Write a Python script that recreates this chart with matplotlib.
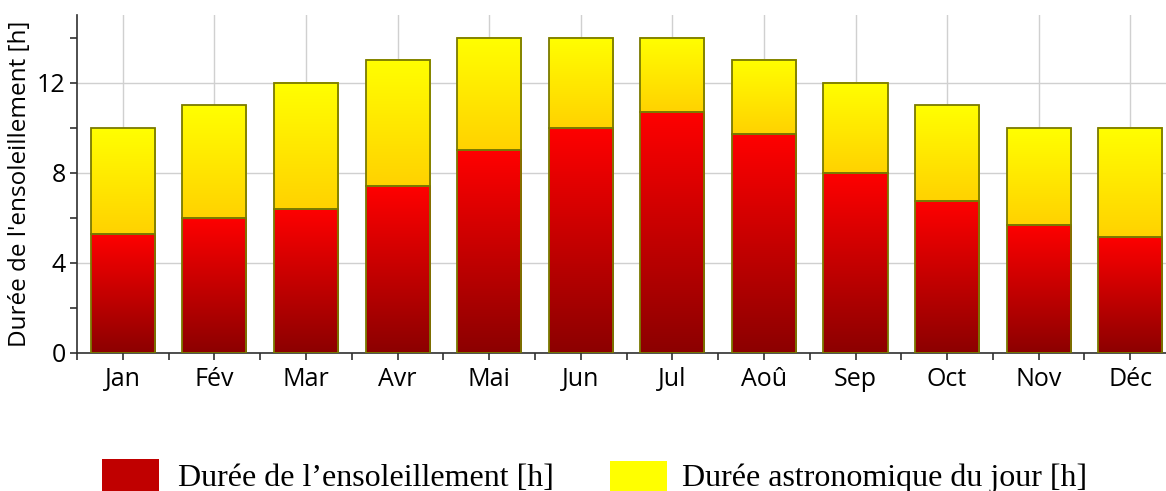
import numpy as np
import matplotlib
matplotlib.use("Agg")
import matplotlib.pyplot as plt
from matplotlib.patches import Rectangle
from matplotlib.ticker import MultipleLocator

months = ["Jan", "Fév", "Mar", "Avr", "Mai", "Jun", "Jul", "Aoû", "Sep", "Oct", "Nov", "Déc"]
sunshine_hours = [5.3, 6.0, 6.4, 7.4, 9.0, 10.0, 10.7, 9.7, 8.0, 6.75, 5.7, 5.15]
day_length_hours = [10, 11, 12, 13, 14, 14, 14, 13, 12, 11, 10, 10]

plt.rcParams["font.family"] = ["Open Sans", "DejaVu Sans"]

fig = plt.figure(figsize=(11.66, 4.91), dpi=100)
ax = fig.add_axes([77 / 1166, 1 - 353 / 491, 1 - 77 / 1166, (353 - 15) / 491])

bar_w = 0.7
edge = "#7a7a00"


def gradient_bar(x, bottom, top, c_top, c_bottom):
    n = 256
    t = np.linspace(0, 1, n)[:, None]
    c_top = np.array(c_top) / 255.0
    c_bottom = np.array(c_bottom) / 255.0
    img = c_top[None, None, :] * (1 - t[..., None]) + c_bottom[None, None, :] * t[..., None]
    img = np.repeat(img, 2, axis=1)
    ax.imshow(img, extent=[x - bar_w / 2, x + bar_w / 2, bottom, top],
              aspect="auto", origin="upper", zorder=2, interpolation="bilinear")
    ax.add_patch(Rectangle((x - bar_w / 2, bottom), bar_w, top - bottom,
                           facecolor="none", edgecolor=edge, linewidth=1.3, zorder=3))


for i, (s, d) in enumerate(zip(sunshine_hours, day_length_hours)):
    gradient_bar(i, 0, s, (255, 0, 0), (140, 0, 0))
    gradient_bar(i, s, d, (255, 255, 0), (255, 210, 0))

ax.set_xlim(-0.5, 11.39)
ax.set_ylim(0, 15)

ax.set_xticks(range(len(months)))
ax.set_xticklabels(months)
ax.xaxis.set_minor_locator(MultipleLocator(1, offset=0.5))
ax.yaxis.set_major_locator(MultipleLocator(4))
ax.yaxis.set_minor_locator(MultipleLocator(2))

ax.tick_params(axis="both", which="both", direction="out", length=5, width=1.2,
               color="#303030", labelsize=18)
ax.tick_params(axis="x", pad=5)
ax.tick_params(axis="y", pad=3)
ax.grid(True, which="major", color="#d0d0d0", linewidth=1, zorder=0)
ax.set_axisbelow(True)

for side in ("top", "right"):
    ax.spines[side].set_visible(False)
for side in ("left", "bottom"):
    ax.spines[side].set_color("#303030")
    ax.spines[side].set_linewidth(1.2)

ax.set_ylabel("Durée de l'ensoleillement [h]", fontsize=17.5, labelpad=4)

# Legend drawn below the chart
fig.patches.append(Rectangle((102 / 1166, 0), 57 / 1166, 32 / 491,
                             transform=fig.transFigure, facecolor="#c00000",
                             edgecolor="none"))
fig.patches.append(Rectangle((610 / 1166, 0), 57 / 1166, 30 / 491,
                             transform=fig.transFigure, facecolor="#ffff00",
                             edgecolor="none"))
legend_font = dict(family=["Liberation Serif", "DejaVu Serif"], fontsize=23,
                   va="baseline", ha="left")
fig.text(178 / 1166, 1 - 486 / 491, "Durée de l\u2019ensoleillement [h]", **legend_font)
fig.text(682 / 1166, 1 - 486 / 491, "Durée astronomique du jour [h]", **legend_font)

fig.savefig("out.png", dpi=100)
